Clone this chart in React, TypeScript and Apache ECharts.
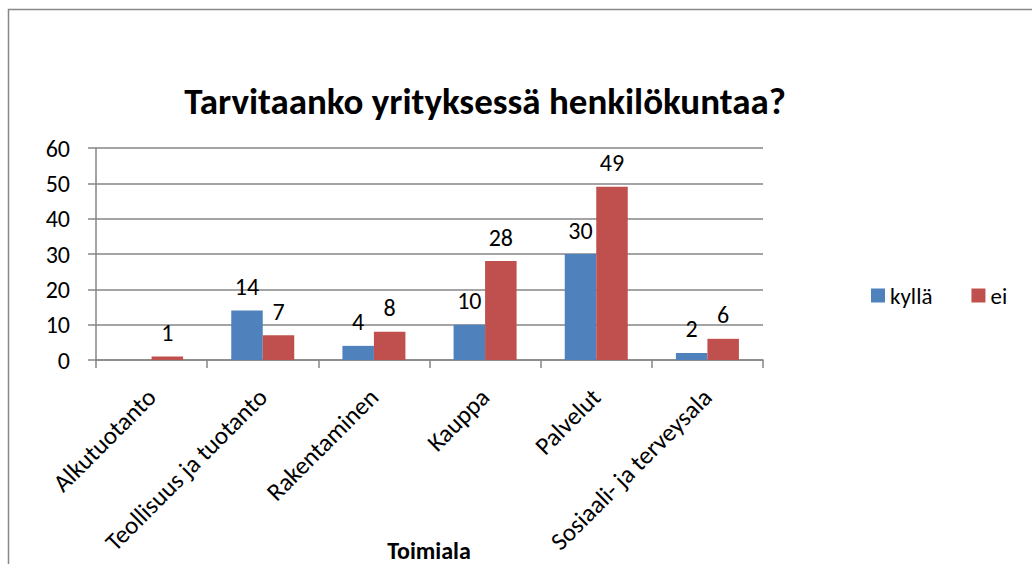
import React, { useEffect, useRef } from "react";
import * as echarts from "echarts";

const categories = [
  "Alkutuotanto",
  "Teollisuus ja tuotanto",
  "Rakentaminen",
  "Kauppa",
  "Palvelut",
  "Sosiaali- ja terveysala",
];
const kylla = [0, 14, 4, 10, 30, 2];
const ei = [1, 7, 8, 28, 49, 6];
const seriesNames = ["kyllä", "ei"];
const titleText = "Tarvitaanko yrityksessä henkilökuntaa?";
const axisName = "Toimiala";

const FONT = "Carlito, Lato, 'Open Sans', sans-serif";
const GRID = "#868686";

export default function App() {
  const ref = useRef<HTMLDivElement>(null);
  useEffect(() => {
    const chart = echarts.init(ref.current!, null, { renderer: "svg" });
    chart.setOption({
      animation: false,
      backgroundColor: "#ffffff",
      textStyle: { fontFamily: FONT, color: "#000" },
      title: {
        text: titleText,
        left: 480,
        textAlign: "center",
        top: 78,
        textStyle: { fontFamily: FONT, fontSize: 37, fontWeight: "bold", color: "#000" },
      },
      legend: {
        left: 866,
        top: 279,
        itemWidth: 14,
        itemHeight: 14,
        itemGap: 39,
        icon: "rect",
        textStyle: { fontFamily: FONT, fontSize: 23, color: "#000" },
        data: seriesNames,
      },
      grid: {
        left: 96,
        right: 269,
        top: 148,
        bottom: 204,
        containLabel: false,
        outerBoundsMode: "none",
      },
      xAxis: {
        type: "category",
        data: categories,
        axisLine: { lineStyle: { color: GRID, width: 1.5 } },
        axisTick: { show: true, length: 8, alignWithLabel: false, lineStyle: { color: GRID, width: 1.5 } },
        axisLabel: { rotate: 45, fontSize: 25, color: "#000", fontFamily: FONT, margin: 33, interval: 0 },
        splitLine: { show: false },
      },
      yAxis: {
        type: "value",
        min: 0,
        max: 60,
        interval: 10,
        axisLine: { show: true, lineStyle: { color: GRID, width: 1.5 } },
        axisTick: { show: true, length: 8, lineStyle: { color: GRID, width: 1.5 } },
        axisLabel: { fontSize: 24, color: "#000", fontFamily: FONT, margin: 26 },
        splitLine: { show: true, lineStyle: { color: GRID, width: 1.5 } },
      },
      series: [
        {
          name: seriesNames[0],
          type: "bar",
          data: kylla,
          barWidth: 31.5,
          barGap: "0%",
          itemStyle: { color: "#4F81BD" },
          label: {
            show: true,
            position: "top",
            distance: 12,
            fontSize: 24,
            color: "#000",
            fontFamily: FONT,
            formatter: (p: any) => (p.value === 0 ? "" : String(p.value)),
          },
        },
        {
          name: seriesNames[1],
          type: "bar",
          data: ei,
          barWidth: 31.5,
          barGap: "0%",
          itemStyle: { color: "#C0504D" },
          label: {
            show: true,
            position: "top",
            distance: 12,
            fontSize: 24,
            color: "#000",
            fontFamily: FONT,
          },
        },
      ],
      graphic: [
        {
          type: "rect",
          shape: { x: 8.5, y: 9.5, width: 1100, height: 700 },
          style: { fill: "none", stroke: "#888888", lineWidth: 1.5 },
          silent: true,
          z: -1,
        },
        {
          type: "text",
          x: 429,
          y: 550,
          style: {
            text: axisName,
            fontFamily: FONT,
            fontSize: 24,
            fontWeight: "bold",
            fill: "#000",
            align: "center",
            verticalAlign: "middle",
          },
          silent: true,
        },
      ],
    });
    return () => chart.dispose();
  }, []);
  return (
    <div
      ref={ref}
      style={{ position: "fixed", left: 0, top: 0, width: 1032, height: 564 }}
    />
  );
}
